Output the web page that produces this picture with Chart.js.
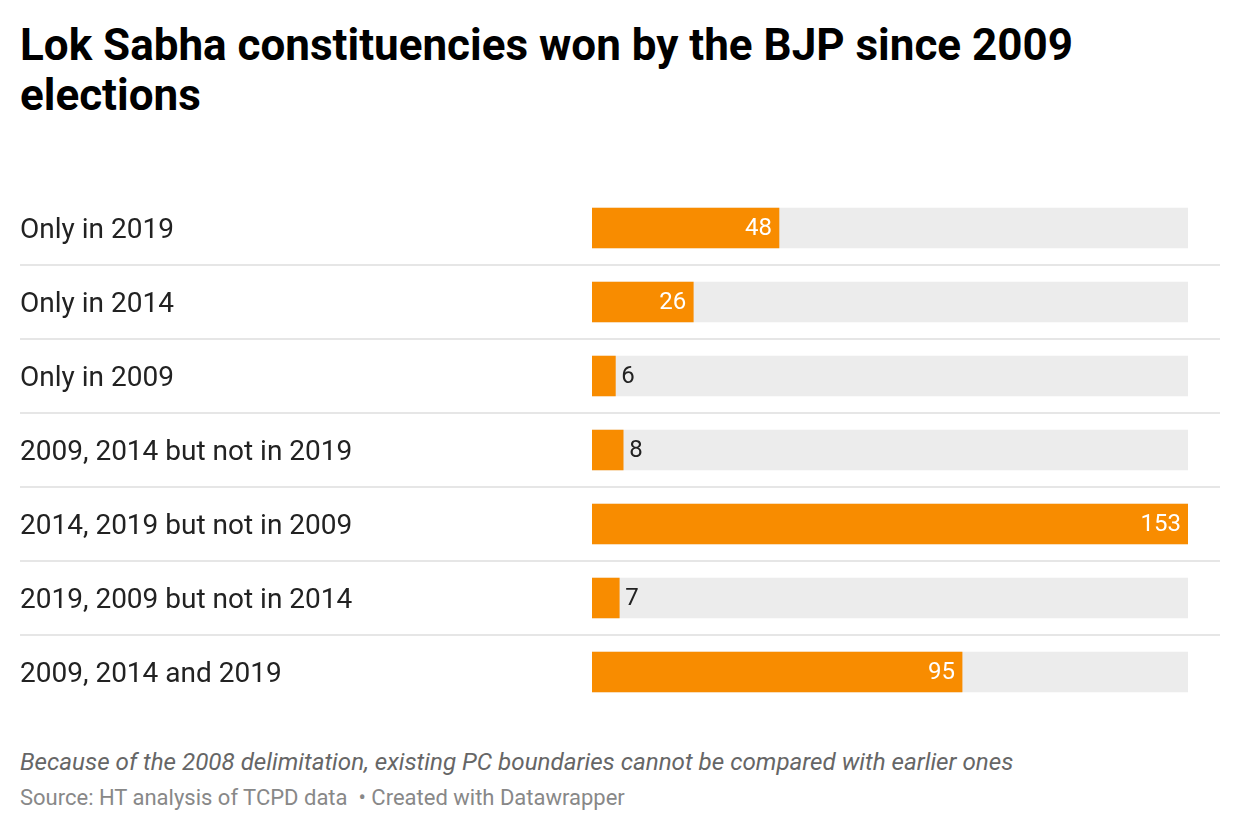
<!DOCTYPE html>
<html>
<head>
<meta charset="utf-8">
<script src="https://cdn.jsdelivr.net/npm/chart.js@4"></script>
<style>
  body{margin:0;background:#fff;font-family:Roboto,sans-serif;}
  #wrap{position:relative;width:1240px;height:832px;}
  #title{position:absolute;left:20px;top:20px;margin:0;font-size:44px;line-height:50px;font-weight:700;color:#000;width:1150px;}
  #chartbox{position:absolute;left:0;top:191px;width:1240px;height:518px;}
  #note{position:absolute;left:20px;top:748px;font-size:24.2px;font-style:italic;color:#666;}
  #source{position:absolute;left:20px;top:785px;font-size:22px;color:#888;}
</style>
</head>
<body>
<div id="wrap">
  <h1 id="title">Lok Sabha constituencies won by the BJP since 2009 elections</h1>
  <div id="chartbox"><canvas id="myChart"></canvas></div>
  <div id="note">Because of the 2008 delimitation, existing PC boundaries cannot be compared with earlier ones</div>
  <div id="source">Source: HT analysis of TCPD data &nbsp;• Created with Datawrapper</div>
</div>
<script>
let categories = ["Only in 2019","Only in 2014","Only in 2009","2009, 2014 but not in 2019","2014, 2019 but not in 2009","2019, 2009 but not in 2014","2009, 2014 and 2019"];
let seats = [48,26,6,8,153,7,95];
let maxSeats = Math.max(...seats);
let backRange = categories.map(() => maxSeats);
let color = ["rgb(248,140,0)","rgb(236,236,236)"];

// 区切り線
const rowLines = {
  id: "rowLines",
  beforeDatasetsDraw(chart){
    const ctx = chart.ctx;
    const y = chart.scales.y;
    ctx.save();
    ctx.strokeStyle = "#e6e6e6";
    ctx.lineWidth = 2;
    for(let i = 0; i < categories.length - 1; i++){
      let py = (y.getPixelForValue(i) + y.getPixelForValue(i + 1)) / 2;
      ctx.beginPath();
      ctx.moveTo(20, py);
      ctx.lineTo(1220, py);
      ctx.stroke();
    }
    ctx.restore();
  }
};

// 数値ラベル
const valueLabels = {
  id: "valueLabels",
  afterDatasetsDraw(chart){
    const ctx = chart.ctx;
    const meta = chart.getDatasetMeta(0);
    ctx.save();
    ctx.font = "24px Roboto";
    ctx.textBaseline = "middle";
    meta.data.forEach((bar, i) => {
      let txt = String(seats[i]);
      let w = ctx.measureText(txt).width;
      if(bar.x - bar.base > w + 40){
        ctx.fillStyle = "#fff";
        ctx.textAlign = "right";
        ctx.fillText(txt, bar.x - 7, bar.y + 1);
      }else{
        ctx.fillStyle = "#222";
        ctx.textAlign = "left";
        ctx.fillText(txt, bar.x + 6, bar.y + 1);
      }
    });
    ctx.restore();
  }
};

Chart.defaults.plugins.legend.display = false;
Chart.defaults.font.family = "Roboto";

new Chart(document.getElementById("myChart"), {
  type: "bar",
  data: {
    labels: categories,
    datasets: [
      {data: seats, backgroundColor: color[0], grouped: false, barThickness: 40, borderWidth: 0},
      {data: backRange, backgroundColor: color[1], grouped: false, barThickness: 40, borderWidth: 0}
    ]
  },
  options: {
    indexAxis: "y",
    responsive: true,
    maintainAspectRatio: false,
    animation: false,
    layout: {padding: {left: 20, right: 52, top: 0, bottom: 0}},
    plugins: {tooltip: {enabled: false}},
    scales: {
      x: {display: false, min: 0, max: maxSeats},
      y: {
        grid: {display: false},
        border: {display: false},
        ticks: {crossAlign: "far", color: "#222", font: {size: 28}, padding: 0, labelOffset: 3},
        afterFit(scale){
          scale.width = 572;
          scale.paddingTop = 0;
          scale.paddingBottom = 0;
        }
      }
    }
  },
  plugins: [rowLines, valueLabels]
});
</script>
</body>
</html>
